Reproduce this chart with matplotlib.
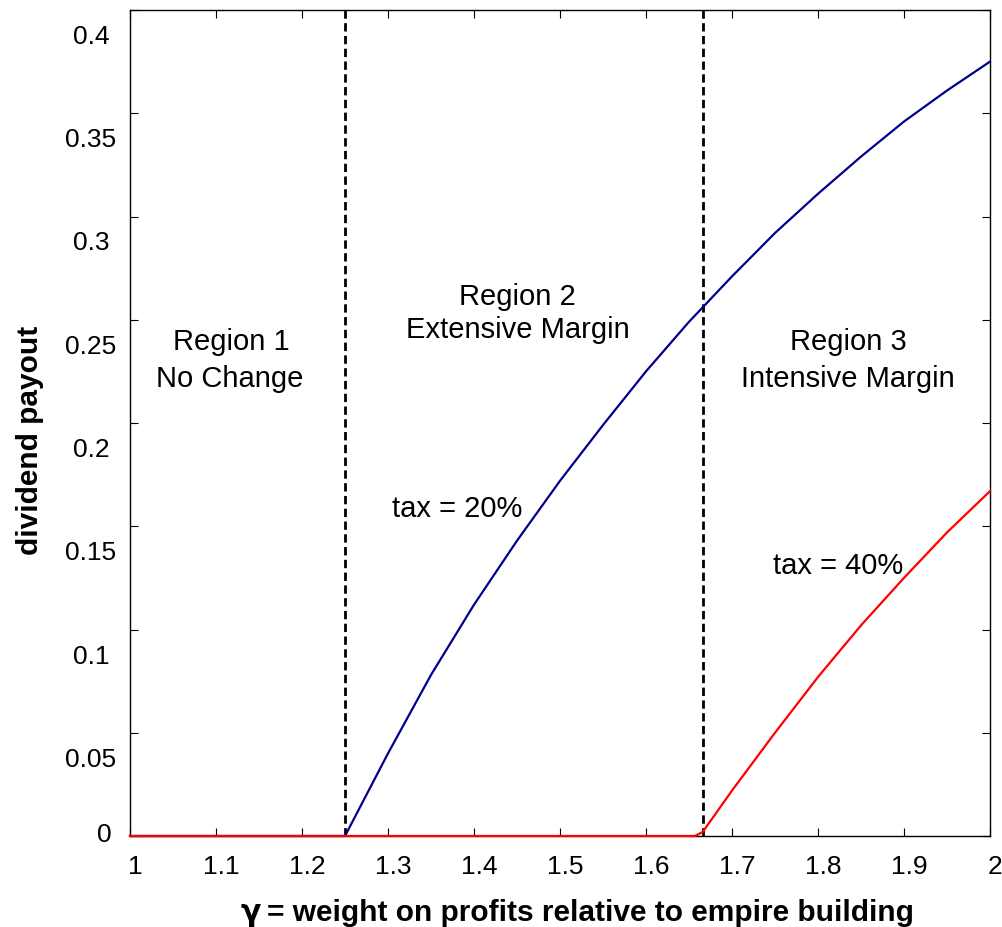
import matplotlib
matplotlib.use("Agg")
import matplotlib.pyplot as plt
import matplotlib.transforms as mtransforms

plt.rcParams['font.family'] = ['Liberation Sans', 'DejaVu Sans']

# data
gamma_20 = [1.00, 1.25, 1.30, 1.35, 1.40, 1.45, 1.50, 1.55, 1.60, 1.65,
            1.70, 1.75, 1.80, 1.85, 1.90, 1.95, 2.00]
payout_20 = [0.0, 0.0, 0.040, 0.078, 0.112, 0.143, 0.172, 0.199, 0.225, 0.249,
             0.271, 0.292, 0.311, 0.329, 0.346, 0.361, 0.375]

gamma_40 = [1.00, 1.657, 1.666, 1.70, 1.75, 1.80, 1.85, 1.90, 1.95, 2.00]
payout_40 = [0.0, 0.0, 0.002, 0.022, 0.050, 0.077, 0.102, 0.125, 0.147, 0.167]

region_bounds = [1.25, 5 / 3]

xticks = [1, 1.1, 1.2, 1.3, 1.4, 1.5, 1.6, 1.7, 1.8, 1.9, 2]
xtick_labels = ['1', '1.1', '1.2', '1.3', '1.4', '1.5', '1.6', '1.7', '1.8', '1.9', '2']
yticks = [0, 0.05, 0.1, 0.15, 0.2, 0.25, 0.3, 0.35, 0.4]
ytick_labels = ['0', '0.05', '0.1', '0.15', '0.2', '0.25', '0.3', '0.35', '0.4']

fig = plt.figure(figsize=(10.02, 9.28), dpi=100)
ax = fig.add_axes([130 / 1002, 1 - 837 / 928, 860 / 1002, 826 / 928])

ax.plot(gamma_20, payout_20, color='#00008f', lw=1.6, zorder=3, clip_on=False)
ax.plot(gamma_40, payout_40, color='#ff0000', lw=1.6, zorder=4, clip_on=False)
for b in region_bounds:
    ax.axvline(b, color='black', lw=2, dashes=(3, 1.6), zorder=2)

ax.set_xlim(1, 2)
ax.set_ylim(0, 0.4)
ax.set_xticks(xticks)
ax.set_yticks(yticks)
ax.tick_params(direction='in', length=6, width=0.8, top=True, right=True,
               labelbottom=False, labelleft=False)
for sp in ax.spines.values():
    sp.set_linewidth(1.0)

# tick labels, placed as in the original export
xtr = mtransforms.blended_transform_factory(ax.transData, ax.transAxes)
for x, s in zip(xticks, xtick_labels):
    tr = mtransforms.offset_copy(xtr, fig=fig, x=5, y=-30, units='dots')
    ax.text(x, 0, s, transform=tr, ha='center', va='center', fontsize=19, clip_on=False)

ytr = mtransforms.blended_transform_factory(ax.transAxes, ax.transData)
for y, s in zip(yticks, ytick_labels):
    if s == '0':
        tr = mtransforms.offset_copy(ytr, fig=fig, x=-26, y=2, units='dots')
    else:
        tr = mtransforms.offset_copy(ytr, fig=fig, x=-39, y=-26, units='dots')
    ax.text(0, y, s, transform=tr, ha='center', va='center', fontsize=19, clip_on=False)

# x label: gamma in DejaVu (looped glyph), rest in Liberation
fig.text(261 / 1002, 1 - 913 / 928, 'γ', ha='right', va='center', fontsize=21.5,
         fontweight='bold', family='DejaVu Sans')
fig.text(267 / 1002, 1 - 913 / 928, '= weight on profits relative to empire building',
         ha='left', va='center', fontsize=21.5, fontweight='bold')
fig.text(30 / 1002, 1 - 440 / 928, 'dividend payout', rotation=90,
         ha='center', va='center', fontsize=21.5, fontweight='bold')

fs = 21
ax.text(1.1174, 0.2398, 'Region 1', ha='center', va='center', fontsize=fs)
ax.text(1.1163, 0.2220, 'No Change', ha='center', va='center', fontsize=fs)
ax.text(1.450, 0.2616, 'Region 2', ha='center', va='center', fontsize=fs)
ax.text(1.451, 0.2456, 'Extensive Margin', ha='center', va='center', fontsize=fs)
ax.text(1.835, 0.2398, 'Region 3', ha='center', va='center', fontsize=fs)
ax.text(1.835, 0.2220, 'Intensive Margin', ha='center', va='center', fontsize=fs)
ax.text(1.380, 0.1586, 'tax = 20%', ha='center', va='center', fontsize=fs)
ax.text(1.823, 0.1310, 'tax = 40%', ha='center', va='center', fontsize=fs)

fig.savefig('out.png', dpi=100)
